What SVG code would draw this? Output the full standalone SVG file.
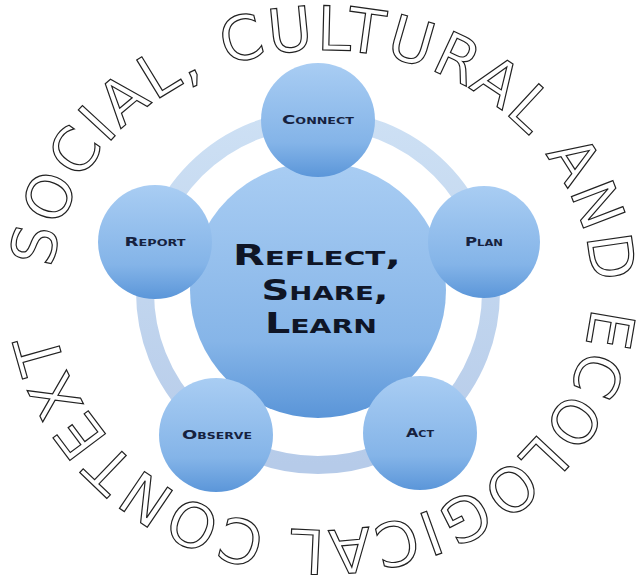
<svg xmlns="http://www.w3.org/2000/svg" width="637" height="575" viewBox="0 0 637 575">
  <defs>
    <linearGradient id="sphere" x1="0" y1="0" x2="0" y2="1">
      <stop offset="0" stop-color="#a9cdf3"/>
      <stop offset="0.7" stop-color="#84b4e8"/>
      <stop offset="1" stop-color="#5b96d9"/>
    </linearGradient>
    <linearGradient id="hub" x1="0" y1="0" x2="0" y2="1">
      <stop offset="0" stop-color="#a9cdf3"/>
      <stop offset="0.7" stop-color="#86b5e8"/>
      <stop offset="1" stop-color="#5a95d8"/>
    </linearGradient>
    <linearGradient id="ringGrad" x1="0" y1="0" x2="0" y2="1">
      <stop offset="0" stop-color="#cde0f4"/>
      <stop offset="1" stop-color="#b6cbe9"/>
    </linearGradient>
    <path id="contextArc" d="M 52 290 A 270 240 0 1 1 592 290 A 270 240 0 1 1 52 290"/>
    <style>
      .node { fill: url(#sphere); }
      .label { font-family: "DejaVu Sans", "Liberation Sans", sans-serif; font-weight: bold; font-variant: small-caps; font-size: 11.5px; fill: #16223f; text-anchor: middle; }
      .hubtxt { font-family: "DejaVu Sans", "Liberation Sans", sans-serif; font-weight: bold; font-variant: small-caps; font-size: 28px; fill: #0f1526; text-anchor: middle; }
      .context { font-family: "DejaVu Sans", "Liberation Sans", sans-serif; font-size: 61px; fill: #ffffff; stroke: #222222; stroke-width: 1.2px; }
    </style>
  </defs>

  <rect width="637" height="575" fill="#ffffff"/>

  <!-- outlined context lettering around the cycle -->
  <text id="context" class="context" textLength="1540" lengthAdjust="spacing"><textPath href="#contextArc" startOffset="22">SOCIAL, CULTURAL AND ECOLOGICAL CONTEXT</textPath></text>

  <!-- ring linking the five stages -->
  <g id="connectors">
    <circle cx="318" cy="292" r="173" fill="none" stroke="url(#ringGrad)" stroke-width="18"/>
  </g>

  <g id="hub-node">
    <circle cx="318" cy="290" r="128" fill="url(#hub)"/>
    <text class="hubtxt" x="317" y="265" textLength="168" lengthAdjust="spacingAndGlyphs">Reflect,</text>
    <text class="hubtxt" x="325" y="300" textLength="127" lengthAdjust="spacingAndGlyphs">Share,</text>
    <text class="hubtxt" x="321" y="333" textLength="112" lengthAdjust="spacingAndGlyphs">Learn</text>
  </g>

  <g id="connect-node">
    <circle class="node" cx="318" cy="120" r="57"/>
    <text class="label" x="318" y="124" textLength="72" lengthAdjust="spacingAndGlyphs">Connect</text>
  </g>

  <g id="plan-node">
    <circle class="node" cx="484" cy="242" r="56"/>
    <text class="label" x="484" y="246" textLength="38" lengthAdjust="spacingAndGlyphs">Plan</text>
  </g>

  <g id="act-node">
    <circle class="node" cx="420" cy="433" r="57"/>
    <text class="label" x="420" y="437" textLength="28" lengthAdjust="spacingAndGlyphs">Act</text>
  </g>

  <g id="observe-node">
    <circle class="node" cx="216" cy="435" r="57"/>
    <text class="label" x="217" y="439" textLength="70" lengthAdjust="spacingAndGlyphs">Observe</text>
  </g>

  <g id="report-node">
    <circle class="node" cx="155" cy="242" r="57"/>
    <text class="label" x="155" y="246" textLength="61" lengthAdjust="spacingAndGlyphs">Report</text>
  </g>
</svg>
